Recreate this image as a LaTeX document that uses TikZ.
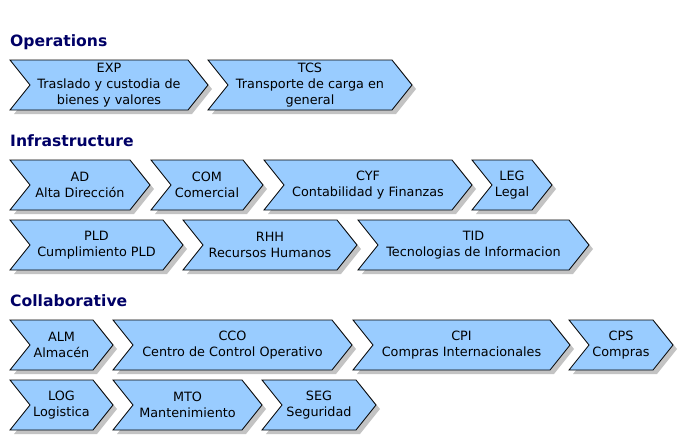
\documentclass[tikz,border=0pt]{standalone}
\usepackage{fontspec}
\setmainfont{DejaVu Sans}
\definecolor{chevfill}{RGB}{153,204,255}
\definecolor{headcol}{RGB}{0,0,102}
\definecolor{shadowcol}{RGB}{195,195,195}
\newcommand\mkchev[5]{%
  \fill[chevshadow] (#2+4,#4+4) -- (#3-20+4,#4+4) -- (#3+4,#4+29) -- (#3-20+4,#4+54) -- (#2+4,#4+54) -- (#2+20+4,#4+29) -- cycle;
  \draw[chevshape] (#2,#4) -- (#3-20,#4) -- (#3,#4+25) -- (#3-20,#4+50) -- (#2,#4+50) -- (#2+20,#4+25) -- cycle;
  \node[chevtext] (#1) at ({(#2+#3)/2},#4+25) {#5};
}
\begin{document}
\begin{tikzpicture}[x=1pt,y=-1pt,
  chevshape/.style={draw=black, fill=chevfill, line width=0.8pt, line join=miter},
  chevshadow/.style={fill=shadowcol},
  chevtext/.style={align=center, font=\fontsize{12.8}{16}\selectfont, inner sep=0pt},
  heading/.style={anchor=base west, font=\fontsize{15.6}{18}\selectfont\bfseries, text=headcol, inner sep=0pt}]
\useasboundingbox (0,0) rectangle (680,437);
\node[heading] (hops) at (10,46) {Operations};
\mkchev{exp}{10}{208}{60}{EXP\\Traslado y custodia de\\bienes y valores}
\mkchev{tcs}{208}{412}{60}{TCS\\Transporte de carga en\\general}
\node[heading] (hinf) at (10,146) {Infrastructure};
\mkchev{ad}{10}{150}{160}{AD\\Alta Dirección}
\mkchev{com}{151}{263}{160}{COM\\Comercial}
\mkchev{cyf}{264}{472}{160}{CYF\\Contabilidad y Finanzas}
\mkchev{leg}{472}{552}{160}{LEG\\Legal}
\mkchev{pld}{10}{183}{220}{PLD\\Cumplimiento PLD}
\mkchev{rhh}{183}{357}{220}{RHH\\Recursos Humanos}
\mkchev{tid}{358}{589}{220}{TID\\Tecnologias de Informacion}
\node[heading] (hcol) at (10,306) {Collaborative};
\mkchev{alm}{10}{113}{320}{ALM\\Almacén}
\mkchev{cco}{113}{352}{320}{CCO\\Centro de Control Operativo}
\mkchev{cpi}{353}{570}{320}{CPI\\Compras Internacionales}
\mkchev{cps}{569}{673}{320}{CPS\\Compras}
\mkchev{log}{10}{113}{380}{LOG\\Logistica}
\mkchev{mto}{113}{262}{380}{MTO\\Mantenimiento}
\mkchev{seg}{262}{376}{380}{SEG\\Seguridad}
\end{tikzpicture}
\end{document}
